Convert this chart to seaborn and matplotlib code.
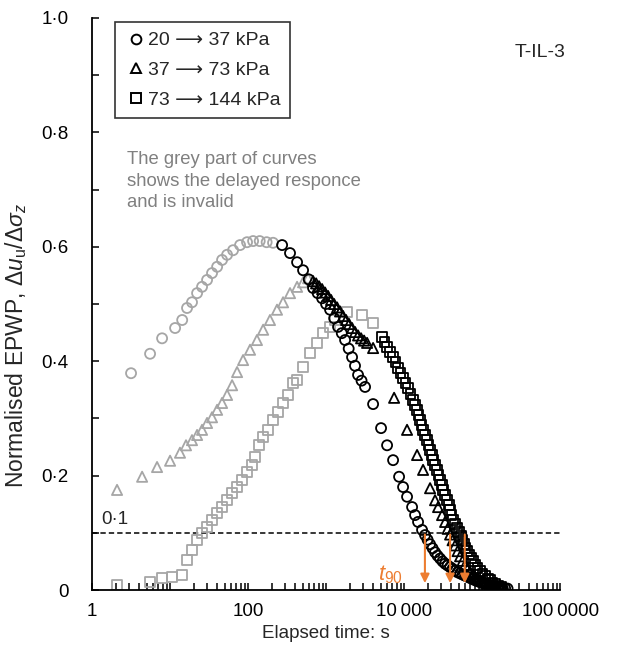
import numpy as np
import pandas as pd
import seaborn as sns
import matplotlib.pyplot as plt
from matplotlib.lines import Line2D
from matplotlib.ticker import LogLocator, NullFormatter

# 20 -> 37 kPa (circles)
c_grey_t = [3.16, 5.54, 7.9, 11.6, 14.3, 16.5, 19.1, 22.2, 25.7, 29.8, 34.5, 40.1, 46.4,
            53.8, 64.2, 78.9, 97, 116, 141, 173, 209]
c_grey_y = [0.379, 0.413, 0.440, 0.458, 0.472, 0.493, 0.503, 0.519, 0.530, 0.542, 0.554,
            0.565, 0.577, 0.586, 0.594, 0.603, 0.608, 0.610, 0.610, 0.608, 0.607]
c_black_t = [273, 345, 425, 507, 600, 681, 780, 889, 1000, 1125, 1270, 1425, 1590, 1753,
             1950, 2154, 2350, 2571, 2850, 3162, 4007, 5070, 6055, 7230, 8630, 9710, 10920,
             12670, 13840, 15110, 17010,
             18580, 20000, 21540, 23200, 24960, 26870, 28950, 31170, 33570, 36140, 38900,
             41880, 45090, 48550, 52270, 56230, 60530, 65160, 70150, 75510, 81280, 87500,
             94200, 101400, 109200, 117700, 126700, 136400, 146800, 158100, 170200,
             183200, 197200, 212300]
c_black_y = [0.603, 0.589, 0.573, 0.559, 0.543, 0.528, 0.519, 0.510, 0.500, 0.490, 0.475,
             0.460, 0.449, 0.437, 0.422, 0.407, 0.392, 0.376, 0.366, 0.355, 0.325, 0.283,
             0.253, 0.227, 0.198, 0.180, 0.163, 0.145, 0.131, 0.119, 0.105,
             0.096, 0.088, 0.080, 0.073, 0.066, 0.060, 0.055, 0.050, 0.046, 0.043, 0.040,
             0.037, 0.034, 0.031, 0.029, 0.027, 0.025, 0.023, 0.021, 0.019, 0.017, 0.0155,
             0.014, 0.0125, 0.011, 0.0095, 0.008, 0.0065, 0.005, 0.0045, 0.004, 0.0035,
             0.003, 0.0025]

# 37 -> 73 kPa (triangles)
t_grey_t = [2.09, 4.38, 6.81, 10.0, 13.4, 16.0, 19.1, 22.2, 25.7, 29.8, 34.5, 40.1, 46.4,
            53.8, 62.4, 72.3, 86.3, 106, 130, 156, 191, 235, 281, 345, 425, 507, 588]
t_grey_y = [0.175, 0.198, 0.215, 0.226, 0.240, 0.253, 0.262, 0.271, 0.280, 0.292, 0.302,
            0.315, 0.327, 0.341, 0.358, 0.381, 0.402, 0.420, 0.437, 0.455, 0.472, 0.490,
            0.503, 0.519, 0.530, 0.538, 0.545]
t_black_t = [681, 745, 813, 889, 971, 1061, 1159, 1267, 1384, 1511, 1652, 1804, 1972, 2154,
             2354, 2571, 2810, 3070, 3355, 4007, 7450, 10920, 14680, 17520, 21540, 24960,
             27290, 30700,
             33570, 36140, 38900, 41880, 45090, 48550, 52270, 56230, 60530, 65160, 70150,
             75510, 81280, 87500, 94200, 101400, 109200, 117700, 126700, 136400, 146800,
             158100, 170200, 183200, 197200]
t_black_y = [0.540, 0.536, 0.531, 0.526, 0.520, 0.514, 0.507, 0.500, 0.494, 0.487, 0.479,
             0.472, 0.465, 0.458, 0.451, 0.445, 0.440, 0.436, 0.432, 0.423, 0.336, 0.280,
             0.236, 0.210, 0.178, 0.157, 0.145, 0.131,
             0.119, 0.107, 0.097, 0.087, 0.078, 0.068, 0.059, 0.051, 0.044, 0.037, 0.032,
             0.027, 0.023, 0.020, 0.017, 0.015, 0.013, 0.011, 0.009, 0.0075, 0.006, 0.005,
             0.004, 0.003, 0.0025]

# 73 -> 144 kPa (squares)
s_grey_t = [2.09, 5.54, 7.9, 10.6, 14.3, 16.5, 19.1, 22.2, 25.7, 29.8, 34.5, 40.1, 46.4,
            53.8, 62.4, 72.3, 83.8, 97.1, 112, 123, 138, 156, 180, 209, 243, 281, 326, 378,
            425, 507, 623, 767, 915, 1125, 1303, 1858, 2895, 4007]
s_grey_y = [0.009, 0.014, 0.021, 0.023, 0.026, 0.052, 0.070, 0.087, 0.100, 0.110, 0.122,
            0.135, 0.145, 0.157, 0.170, 0.180, 0.192, 0.206, 0.219, 0.233, 0.253, 0.267,
            0.280, 0.297, 0.311, 0.327, 0.341, 0.362, 0.367, 0.390, 0.414, 0.432, 0.449,
            0.460, 0.472, 0.486, 0.481, 0.467]
s_black_t = [5225, 5620, 6055, 6620, 7230, 7780, 8380, 9020, 9710, 10450, 11250, 12110,
             13040, 13840, 14680, 15350, 16030, 16760, 17520, 18580, 19710, 20610, 21540,
             22540, 23550, 24960, 26480, 27680, 28950, 30270, 31620, 33570, 35580, 37230,
             38900, 40640, 42500, 45090, 47750, 50700, 53800, 56230, 58800, 61400, 64200,
             68100, 72300, 76700, 81300, 87500, 94200, 101400, 109200, 117700, 126700,
             136400, 146800, 160300, 175300]
s_black_y = [0.442, 0.434, 0.425, 0.416, 0.407, 0.398, 0.388, 0.380, 0.371, 0.362, 0.353,
             0.343, 0.332, 0.323, 0.315, 0.306, 0.297, 0.289, 0.280, 0.271, 0.262, 0.254,
             0.245, 0.236, 0.227, 0.218, 0.210, 0.201, 0.192, 0.184, 0.175, 0.166, 0.157,
             0.149, 0.140, 0.131, 0.122, 0.115, 0.108, 0.101, 0.094, 0.087, 0.080, 0.074,
             0.068, 0.062, 0.056, 0.050, 0.044, 0.038, 0.033, 0.028, 0.024, 0.020, 0.017,
             0.013, 0.010, 0.007, 0.005]

labels = ['20 \u27f6 37 kPa', '37 \u27f6 73 kPa', '73 \u27f6 144 kPa']
markers = ['o', '^', 's']
t90 = [18500, 38900, 60000]

x_major = [1, 10, 100, 1000, 10000, 100000, 1000000]
x_ticklabels = ['1', '', '100', '', '10\u2009000', '', '100\u20090000']
y_major = [0, 0.1, 0.2, 0.3, 0.4, 0.5, 0.6, 0.7, 0.8, 0.9, 1.0]
y_ticklabels = ['0', '', '0\u00b72', '', '0\u00b74', '', '0\u00b76', '', '0\u00b78', '',
                '1\u00b70']

sns.set_style('ticks')
plt.rcParams['font.family'] = ['Liberation Sans', 'DejaVu Sans']
plt.rcParams['mathtext.fontset'] = 'custom'
plt.rcParams['mathtext.rm'] = 'Liberation Sans'
plt.rcParams['mathtext.it'] = 'Liberation Sans:italic'

fs = 13.5
fig = plt.figure(figsize=(6.35, 6.56), dpi=100)
ax = fig.add_axes([0.145, 0.1006, 0.737, 0.872])

grey = '#a6a6a6'
groups = [(c_grey_t, c_grey_y, c_black_t, c_black_y),
          (t_grey_t, t_grey_y, t_black_t, t_black_y),
          (s_grey_t, s_grey_y, s_black_t, s_black_y)]
sizes = {'o': 52, '^': 54, 's': 50}

for (gt, gy, bt, by), m in zip(groups, markers):
    sns.scatterplot(x=gt, y=gy, marker=m, s=sizes[m], facecolor='none', edgecolor=grey,
                    linewidth=1.3, ax=ax, zorder=2)
for (gt, gy, bt, by), m in zip(groups, markers):
    sns.scatterplot(x=bt, y=by, marker=m, s=sizes[m], facecolor='none', edgecolor='black',
                    linewidth=1.3, ax=ax, zorder=3)

ax.set_xscale('log')
ax.set_xlim(1, 1e6)
ax.set_ylim(0, 1.0)

ax.axhline(0.1, color='black', linestyle='--', linewidth=1.1, dashes=(3.5, 2), zorder=1)
ax.text(1.3, 0.108, '0\u00b71', fontsize=fs, ha='left', va='bottom')

for tx in t90:
    ax.annotate('', xy=(tx, 0.012), xytext=(tx, 0.097),
                arrowprops=dict(arrowstyle='-|>', color='#ed7d31', lw=1.5,
                                mutation_scale=13, shrinkA=0, shrinkB=0), zorder=4)
ax.text(6700, 0.027, '$t_{90}$', color='#ed7d31', fontsize=16, ha='center', va='center')

ax.text(0.958, 0.94, 'T-IL-3', transform=ax.transAxes, fontsize=14, ha='center',
        va='center')
ax.text(0.074, 0.767, 'The grey part of curves\nshows the delayed responce\nand is invalid',
        transform=ax.transAxes, fontsize=13.3, color='#808080', ha='left', va='top',
        linespacing=1.35)

handles = [Line2D([], [], linestyle='none', marker=m, markersize=7, markerfacecolor='none',
                  markeredgecolor='black', markeredgewidth=1.4) for m in markers]
leg = ax.legend(handles, labels, loc='upper left', bbox_to_anchor=(0.049, 0.993),
                borderaxespad=0, frameon=True, fancybox=False, edgecolor='black',
                fontsize=14, handlelength=1.2, handletextpad=0.0, labelspacing=0.62,
                borderpad=0.5)
leg.get_frame().set_linewidth(1.2)

ax.set_xticks(x_major)
ax.set_xticklabels(x_ticklabels)
ax.xaxis.set_minor_locator(LogLocator(base=10, subs=np.arange(2, 10), numticks=20))
ax.xaxis.set_minor_formatter(NullFormatter())
ax.set_yticks(y_major)
ax.set_yticklabels(y_ticklabels)

ax.tick_params(axis='both', which='both', direction='in', length=5, width=1.1,
               labelsize=fs, colors='black')
ax.tick_params(axis='y', pad=17)
ax.tick_params(axis='x', pad=9)

for side in ['top', 'right']:
    ax.spines[side].set_visible(False)
for side in ['left', 'bottom']:
    ax.spines[side].set_linewidth(1.3)
    ax.spines[side].set_color('black')

ax.set_xlabel('Elapsed time: s', fontsize=fs, labelpad=4)
ax.set_ylabel(r'Normalised EPWP, $\mathit{\Delta u}_{\mathrm{u}}/\mathit{\Delta \sigma}_{z}$',
              fontsize=16.5)
ax.yaxis.set_label_coords(-0.135, 0.428)

fig.savefig('out.png', dpi=100)
